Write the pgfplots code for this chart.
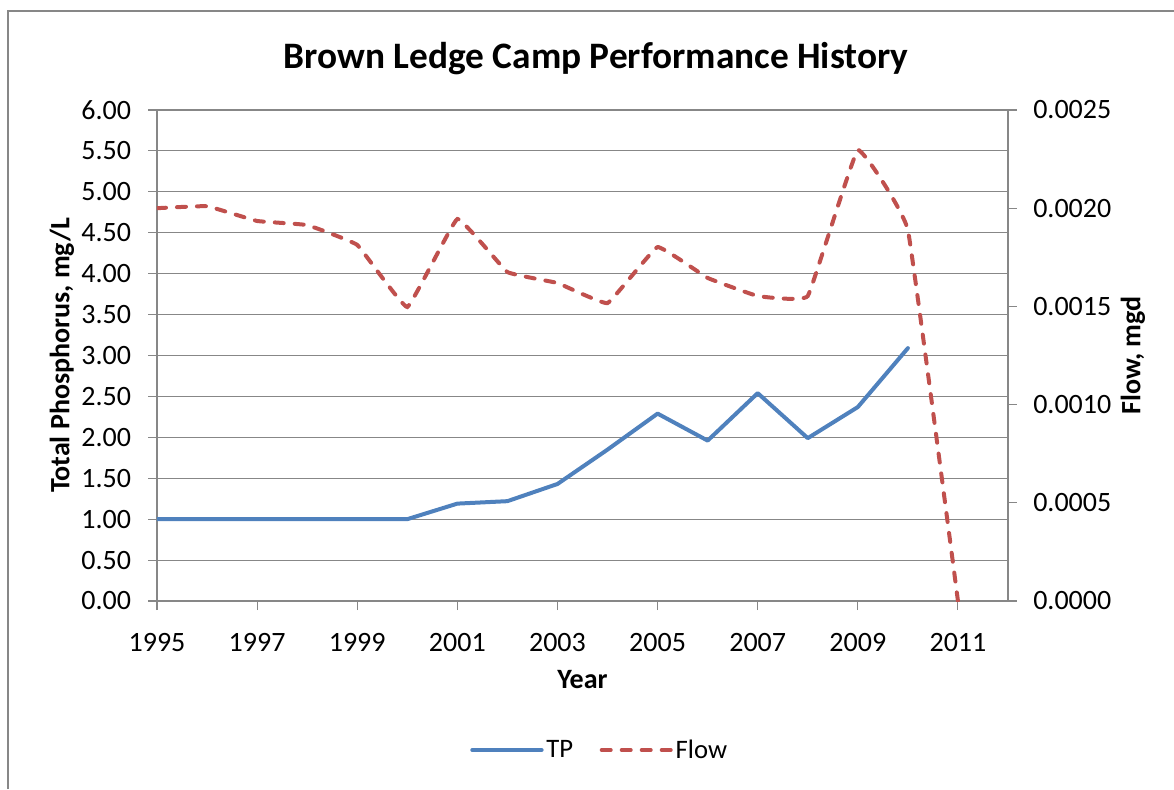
\documentclass[border=0pt]{standalone}
\usepackage{fontspec}
\setmainfont{Carlito}
\usepackage{pgfplots}
\pgfplotsset{compat=1.18}

\definecolor{tpblue}{HTML}{4F81BD}
\definecolor{flowred}{HTML}{C0504D}
\definecolor{axgray}{HTML}{878787}

\pgfplotsset{
  common/.style={
    width=638.25pt, height=368.25pt, scale only axis,
    at={(0,0)}, anchor=south west,
    xmin=1995, xmax=2012,
    tick align=outside, major tick length=6.75pt,
    tick style={axgray, line width=0.8pt},
    axis line style={axgray, line width=0.8pt},
    /pgf/number format/assume math mode=true,
    tick label style={font=\fontsize{21}{25}\selectfont},
    label style={font=\fontsize{21}{25}\selectfont\bfseries},
  },
}

\begin{document}
\begin{tikzpicture}
\begin{axis}[common, name=ax,
    axis x line*=bottom, axis y line*=left,
    ymin=0, ymax=6, ytick={0,0.5,...,6},
    xtick={1995,1997,...,2011},
    xticklabel style={/pgf/number format/1000 sep={}, anchor=north, inner sep=0pt, yshift=-17pt},
    yticklabel style={/pgf/number format/fixed, /pgf/number format/fixed zerofill,
      /pgf/number format/precision=2, anchor=east, inner sep=0pt, xshift=-12.5pt},
    ymajorgrids, grid style={axgray, line width=0.8pt},
    ylabel={Total Phosphorus, mg/L},
    ylabel style={at={(axis description cs:-0.1116,0.5)}, anchor=center, rotate=0},
    xlabel={Year},
    xlabel style={at={(axis description cs:0.5,-0.1589)}, anchor=center},
    title={Brown Ledge Camp Performance History},
    title style={at={(axis description cs:0.5159,1.088)}, anchor=center, font=\fontsize{28}{33}\selectfont\bfseries},
]
\addplot[tpblue, line width=3pt, line join=round, line cap=round] coordinates {
  (1995,1.00) (1996,1.00) (1997,1.00) (1998,1.00) (1999,1.00) (2000,1.00)
  (2001,1.19) (2002,1.22) (2003,1.43) (2004,1.85) (2005,2.29) (2006,1.96)
  (2007,2.54) (2008,1.99) (2009,2.37) (2010,3.09)
};
\end{axis}
\begin{axis}[common,
    axis x line=none, axis y line*=right,
    ymin=0, ymax=0.0025, ytick={0,0.0005,...,0.0025},
    scaled y ticks=false,
    yticklabel style={/pgf/number format/fixed, /pgf/number format/fixed zerofill,
      /pgf/number format/precision=4, anchor=west, inner sep=0pt, xshift=12pt},
    ylabel={Flow, mgd},
    ylabel style={at={(axis description cs:1.1469,0.5)}, anchor=center, rotate=0},
    legend style={at={(axis description cs:0.5206,-0.3035)}, anchor=center, draw=none,
      legend columns=2, font=\fontsize{20}{24}\selectfont,
      /tikz/every even column/.append style={column sep=18pt}},
    legend image code/.code={\draw[#1] (0pt,0pt) -- (52pt,0pt);},
]
\addlegendimage{tpblue, line width=3pt, line cap=round}
\addlegendentry{TP}
\addplot[flowred, line width=3pt, line cap=round, dash pattern=on 6.75pt off 8.25pt, smooth, tension=0.15] coordinates {
  (1995,0.00200) (1996,0.00201) (1997,0.001935) (1998,0.001914) (1999,0.001813)
  (2000,0.001497) (2001,0.001945) (2002,0.001675) (2003,0.001619) (2004,0.001517)
  (2005,0.001802) (2006,0.001645) (2007,0.001553) (2008,0.001553) (2009,0.002296)
  (2010,0.001889) (2011,0.0)
};
\addlegendentry{Flow}
\end{axis}
\draw[axgray, line width=1.5pt] (-111.75pt,-141pt) -- (-111.75pt,442.5pt) -- (762.75pt,442.5pt);
\pgfresetboundingbox
\useasboundingbox (-117.75pt,-141pt) rectangle (762.75pt,450.75pt);
\end{tikzpicture}
\end{document}
